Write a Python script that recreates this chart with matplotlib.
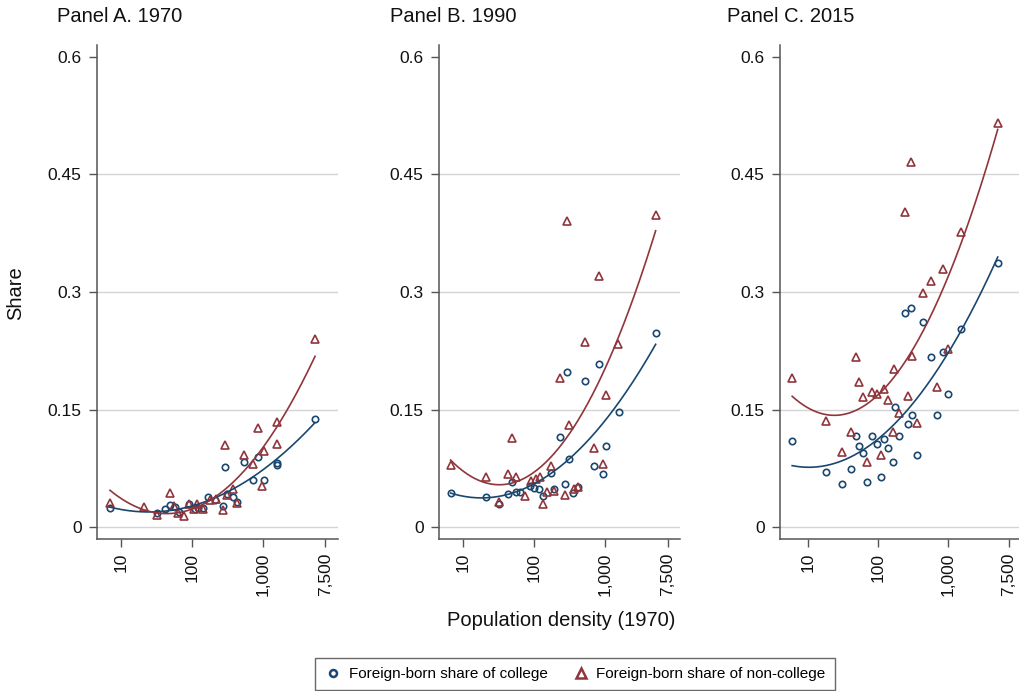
import numpy as np
import matplotlib
matplotlib.use("Agg")
import matplotlib.pyplot as plt
from matplotlib.lines import Line2D

plt.rcParams['font.family'] = ['Liberation Sans', 'DejaVu Sans']

NAVY = '#1a476f'
MAROON = '#90353b'
GRID = '#d4d4d4'
SPINE = '#555555'

# ---- data (density 1970, share) ----
a_col_x = [7.0, 31.8, 41.7, 49, 57.5, 66, 91.6, 110, 122, 145, 170, 210, 270, 292,
           315, 374, 425, 540, 716, 856, 1030, 1580, 1580, 5400]
a_col_y = [0.024, 0.0175, 0.0226, 0.028, 0.025, 0.0196, 0.030, 0.0226, 0.024, 0.024,
           0.0387, 0.0345, 0.0268, 0.077, 0.042, 0.038, 0.032, 0.0834, 0.060, 0.089,
           0.060, 0.0813, 0.0788, 0.138]
a_nc_x = [7.0, 21, 31.8, 49, 55.7, 64, 78, 91.6, 107, 116, 145, 180, 218, 270, 292,
          315, 374, 425, 540, 716, 856, 960, 1030, 1550, 1580, 5400]
a_nc_y = [0.031, 0.026, 0.0153, 0.043, 0.0268, 0.018, 0.014, 0.030, 0.0226, 0.029,
          0.0226, 0.0345, 0.0353, 0.0217, 0.1047, 0.0409, 0.048, 0.031, 0.092, 0.080,
          0.126, 0.052, 0.097, 0.134, 0.106, 0.2396]

b_col_x = [6.7, 20.8, 32, 42.9, 49.4, 56, 64, 86.5, 100, 117, 133, 171, 188, 233,
           269, 290, 309, 351, 413, 524, 692, 815, 925, 1032, 1540, 5080]
b_col_y = [0.0438, 0.0387, 0.0294, 0.042, 0.0578, 0.0447, 0.0447, 0.0523, 0.050,
           0.0489, 0.040, 0.0693, 0.0489, 0.1153, 0.0545, 0.198, 0.0864, 0.043,
           0.0515, 0.187, 0.0779, 0.208, 0.0672, 0.1038, 0.147, 0.2477]
b_nc_x = [6.7, 20.8, 32, 42.9, 49.4, 56, 73.6, 91, 105, 119, 133, 151, 171, 188,
          233, 269, 290, 309, 359, 413, 517, 692, 815, 925, 1008, 1500, 5080]
b_nc_y = [0.079, 0.0642, 0.0323, 0.0672, 0.1132, 0.064, 0.0396, 0.059, 0.061,
          0.0634, 0.0294, 0.045, 0.078, 0.046, 0.19, 0.041, 0.3906, 0.130, 0.048,
          0.0507, 0.2366, 0.1004, 0.320, 0.080, 0.1685, 0.233, 0.398]

c_col_x = [6.0, 18.2, 31, 42, 49, 54.6, 62.2, 71, 83, 96.8, 112, 123, 142, 164, 177,
           204, 246, 274, 296, 309, 361, 439, 572, 697, 850, 1000, 1550, 5180]
c_col_y = [0.110, 0.0702, 0.0553, 0.0745, 0.1166, 0.1034, 0.094, 0.0578, 0.116,
           0.1063, 0.0634, 0.1123, 0.1009, 0.083, 0.1536, 0.116, 0.2728, 0.131,
           0.280, 0.1426, 0.0919, 0.2617, 0.2166, 0.1426, 0.2238, 0.170, 0.2524,
           0.3366]
c_nc_x = [6.0, 18.2, 31, 42, 49, 54.6, 62.2, 71, 83, 96.8, 112, 123, 142, 164, 173,
          204, 246, 274, 296, 309, 361, 439, 572, 697, 850, 1000, 1550, 5180]
c_nc_y = [0.190, 0.1353, 0.0953, 0.1217, 0.2166, 0.1847, 0.1664, 0.0834, 0.1723,
          0.170, 0.0919, 0.1758, 0.162, 0.1217, 0.2013, 0.145, 0.4017, 0.1677,
          0.4664, 0.2183, 0.1332, 0.299, 0.314, 0.1783, 0.329, 0.2268, 0.377, 0.516]

titles = ['Panel A. 1970', 'Panel B. 1990', 'Panel C. 2015']
panels = [(a_col_x, a_col_y, a_nc_x, a_nc_y),
          (b_col_x, b_col_y, b_nc_x, b_nc_y),
          (c_col_x, c_col_y, c_nc_x, c_nc_y)]
xticks = [10, 100, 1000, 7500]
xticklabels = ['10', '100', '1,000', '7,500']
yticks = [0, 0.15, 0.3, 0.45, 0.6]
yticklabels = ['0', '0.15', '0.3', '0.45', '0.6']

W, H = 1019, 691
fig = plt.figure(figsize=(W / 100, H / 100), dpi=100, facecolor='white')

lefts = [97, 439, 780]
title_x = [57, 390, 727]
ax_w, ax_top, ax_bot = 241, 45, 539
xlims = [(10 ** 0.662, 10 ** 4.056), (10 ** 0.663, 10 ** 4.048), (10 ** 0.604, 10 ** 4.047)]


def fit_curve(x, y):
    # quadratic fit in log density
    lx = np.log10(x)
    coef = np.polyfit(lx, y, 2)
    grid = np.linspace(lx.min(), lx.max(), 200)
    return 10 ** grid, np.polyval(coef, grid)


for i, (cx, cy, nx, ny) in enumerate(panels):
    ax = fig.add_axes([lefts[i] / W, 1 - ax_bot / H, ax_w / W, (ax_bot - ax_top) / H])
    ax.set_xscale('log')
    ax.set_xlim(*xlims[i])
    ax.set_ylim(-0.0153, 0.6153)
    for g in yticks[:-1]:
        ax.axhline(g, color=GRID, lw=1.0, zorder=0)

    ax.plot(cx, cy, 'o', ms=4.6, mfc='none', mec=NAVY, mew=1.2, zorder=3)
    ax.plot(nx, ny, '^', ms=5.6, mfc='none', mec=MAROON, mew=1.2, zorder=3)

    fx, fy = fit_curve(np.array(cx), np.array(cy))
    ax.plot(fx, fy, color=NAVY, lw=1.2, zorder=4)
    fx, fy = fit_curve(np.array(nx), np.array(ny))
    ax.plot(fx, fy, color=MAROON, lw=1.2, zorder=4)

    ax.set_xticks(xticks)
    ax.set_xticklabels(xticklabels, rotation=90)
    ax.xaxis.set_minor_locator(matplotlib.ticker.NullLocator())
    ax.set_yticks(yticks)
    ax.set_yticklabels(yticklabels)
    ax.tick_params(axis='both', direction='out', length=6, width=1, color=SPINE,
                   labelsize=12.5, pad=4, labelcolor='#111111')
    ax.tick_params(axis='y', pad=5)
    for s in ['top', 'right']:
        ax.spines[s].set_visible(False)
    for s in ['left', 'bottom']:
        ax.spines[s].set_color(SPINE)
        ax.spines[s].set_linewidth(1.1)
    ax.set_facecolor('none')

    fig.text(title_x[i] / W, 1 - 17 / H, titles[i], ha='left', va='center',
             fontsize=14.5, color='#111111')

fig.text(16 / W, 1 - 293 / H, 'Share', rotation=90, ha='center', va='center',
         fontsize=14.5, color='#111111')
fig.text(561 / W, 1 - 620 / H, 'Population density (1970)', ha='center',
         va='center', fontsize=14.5, color='#111111')

handles = [Line2D([], [], ls='none', marker='o', ms=5, mfc='none', mec=NAVY, mew=1.8),
           Line2D([], [], ls='none', marker='^', ms=6.5, mfc='none', mec=MAROON, mew=1.8)]
leg = fig.legend(handles, ['Foreign-born share of college',
                           'Foreign-born share of non-college'],
                 loc='center', bbox_to_anchor=(575 / W, 1 - 674 / H), ncol=2,
                 fontsize=11, frameon=True, fancybox=False, handletextpad=0.4,
                 columnspacing=1.6, handlelength=1.2, borderpad=0.6)
leg.get_frame().set_edgecolor('#444444')
leg.get_frame().set_linewidth(1.0)

fig.savefig('out.png', dpi=100, facecolor='white')
